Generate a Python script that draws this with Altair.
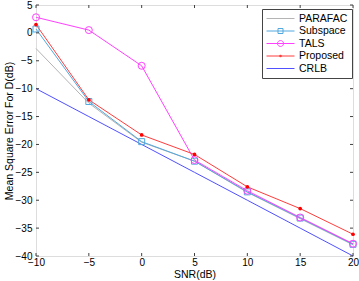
import altair as alt
import pandas as pd

snr = [-10, -5, 0, 5, 10, 15, 20]
parafac = [-2.8, -12.6, -19.6, -23.0, -28.6, -33.3, -38.0]
subspace = [0.7, -12.3, -19.5, -23.0, -28.5, -33.2, -37.9]
tals = [2.8, 0.5, -5.9, -22.8, -28.3, -33.1, -37.8]
proposed = [1.5, -12.0, -18.3, -21.8, -27.6, -31.5, -36.1]
crlb = [-10, -15, -20, -25, -30, -35, -40]

methods = ["PARAFAC", "Subspace", "TALS", "Proposed", "CRLB"]
series = [parafac, subspace, tals, proposed, crlb]
colors = ["#b4b4b4", "#52a8de", "#ff40ff", "#ff3c3c", "#5050ff"]

x_ticks = [-10, -5, 0, 5, 10, 15, 20]
y_ticks = [-40, -35, -30, -25, -20, -15, -10, -5, 0, 5]

rows = []
for m, vals in zip(methods, series):
    for s, v in zip(snr, vals):
        rows.append({"snr": s, "value": v, "method": m})
df = pd.DataFrame(rows)

legend_df = pd.DataFrame({"method": methods, "snr": [None] * 5, "value": [None] * 5})
xt_df = pd.DataFrame({"t": x_ticks})
yt_df = pd.DataFrame({"t": y_ticks})

W, H = 317, 251
FONT = "Liberation Sans"

xscale = alt.Scale(domain=[-10, 20], nice=False, zero=False)
yscale = alt.Scale(domain=[-40, 5], nice=False, zero=False)

xaxis = alt.Axis(values=x_ticks, ticks=False, domain=False, grid=False,
                 labelFont=FONT, labelFontSize=10, labelColor="#000",
                 labelPadding=1, labelFlush=False, labelOverlap=False,
                 title="SNR(dB)", titleFont=FONT,
                 titleFontSize=10.5, titleFontWeight="normal", titleColor="#000",
                 titleX=W / 2, titleY=21, titleBaseline="alphabetic",
                 titleAlign="center")
yaxis = alt.Axis(values=y_ticks, ticks=False, domain=False, grid=False,
                 labelFont=FONT, labelFontSize=10, labelColor="#000",
                 labelPadding=4, labelOverlap=False, labelFlush=False,
                 title="Mean Square Error For D(dB)",
                 titleFont=FONT, titleFontSize=10.5, titleFontWeight="normal",
                 titleColor="#000", titleX=-24, titleY=H / 2,
                 titleAngle=270, titleBaseline="alphabetic", titleAlign="center")

X = lambda f: alt.X(f, scale=xscale, axis=xaxis)
Y = lambda f: alt.Y(f, scale=yscale, axis=yaxis)

color_scale = alt.Scale(domain=methods, range=colors)

# symbol radius r = 5px; path units are multiples of r, centre of symbol at x = r
legend_shapes = [
    "M-1,0H4.6",
    "M-1,0H4.6M1.3,-0.5H2.3V0.5H1.3Z",
    "M-1,0H4.6M2.4,0A0.6,0.6,0,1,1,1.2,0A0.6,0.6,0,1,1,2.4,0Z",
    "M-1,0H4.6M1.66,-0.14H1.94V0.14H1.66ZM1.73,-0.07H1.87V0.07H1.73Z",
    "M-1,0H4.6",
]
shape_scale = alt.Scale(domain=methods, range=legend_shapes)

base = alt.Chart(df)

line_layers = []
for m, c in zip(methods, colors):
    line_layers.append(
        base.transform_filter(alt.datum.method == m).mark_line(strokeWidth=1).encode(
            x=X("snr:Q"), y=Y("value:Q"), color=alt.value(c))
    )

sq = base.transform_filter(alt.datum.method == "Subspace").mark_point(
    shape="square", filled=False, size=36, strokeWidth=1, opacity=1
).encode(x=X("snr:Q"), y=Y("value:Q"), color=alt.value(colors[1]))

circ = base.transform_filter(alt.datum.method == "TALS").mark_point(
    shape="circle", filled=False, size=49, strokeWidth=1, opacity=1
).encode(x=X("snr:Q"), y=Y("value:Q"), color=alt.value(colors[2]))

dots = base.transform_filter(alt.datum.method == "Proposed").mark_point(
    shape="circle", filled=True, size=14, opacity=1
).encode(x=X("snr:Q"), y=Y("value:Q"), color=alt.value("#ff0000"))

leg = alt.Legend(title=None, orient="none", legendX=226, legendY=4,
                 labelFont=FONT, labelFontSize=10.5, labelColor="#000",
                 symbolSize=100, symbolStrokeWidth=1, labelOffset=22,
                 padding=4, rowPadding=1.5, strokeColor="#444", fillColor="#fff")

legend_layer = alt.Chart(legend_df).mark_point(filled=False, strokeWidth=1, opacity=1).encode(
    x=X("snr:Q"), y=Y("value:Q"),
    color=alt.Color("method:N", scale=color_scale, legend=leg),
    shape=alt.Shape("method:N", scale=shape_scale, legend=leg),
)

tick_color = "#404040"
bt = alt.Chart(xt_df).mark_rule(color=tick_color, strokeWidth=1).encode(
    x=X("t:Q"), y=alt.value(H), y2=alt.value(H - 3))
tt = alt.Chart(xt_df).mark_rule(color=tick_color, strokeWidth=1).encode(
    x=X("t:Q"), y=alt.value(0), y2=alt.value(3))
lt = alt.Chart(yt_df).mark_rule(color=tick_color, strokeWidth=1).encode(
    y=Y("t:Q"), x=alt.value(0), x2=alt.value(3))
rt = alt.Chart(yt_df).mark_rule(color=tick_color, strokeWidth=1).encode(
    y=Y("t:Q"), x=alt.value(W), x2=alt.value(W - 3))

chart = alt.layer(*line_layers, sq, circ, dots, bt, tt, lt, rt, legend_layer).properties(
    width=W, height=H,
    padding={"left": 36, "top": 5, "right": 6, "bottom": 25},
    autosize=alt.AutoSizeParams(type="none"),
).configure_view(stroke="#404040", strokeWidth=1).configure(background="#ffffff")

chart.save("out.html", embed_options={"renderer": "svg", "actions": False})
